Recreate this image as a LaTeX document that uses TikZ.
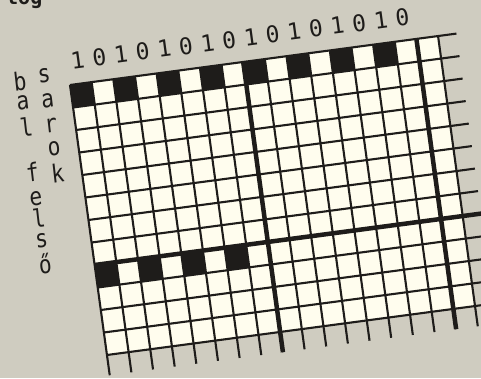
\documentclass[tikz,border=0pt]{standalone}
\usepackage{fontspec}
\usepackage{xcolor}
\usepackage{tikz}
\newfontfamily\typefont{DejaVu Sans Mono}
\definecolor{paper}{RGB}{207,204,192}
\definecolor{cellwhite}{RGB}{255,253,238}
\definecolor{ink}{RGB}{30,28,26}
\tikzset{
  gridline/.style={line width=2.1pt, draw=ink},
  thickline/.style={line width=4.5pt, draw=ink},
  bitlabel/.style={font=\typefont\fontsize{23}{23}\selectfont, text=ink, inner sep=0pt,
    text height=0.7em, text depth=0pt, rotate=7.7},
  sideletter/.style={font=\typefont\fontsize{25}{25}\selectfont, text=ink, inner sep=0pt,
    text height=0.55em, text depth=0pt, xscale=0.85, rotate=7.7},
}

\begin{document}
\begin{tikzpicture}[x=1pt,y=1pt]
  \useasboundingbox (0,0) rectangle (481,378);
  \fill[paper] (0,0) rectangle (481,378);
  % cut-off caption at the top
  \node[font=\typefont\bfseries\fontsize{20}{20}\selectfont, text=ink, anchor=base west, inner sep=0pt] (caption) at (6,373) {log};
  % the rotated chart
  \begin{scope}[shift={(70,293)}, x={(21.65pt,2.88pt)}, y={(3.08pt,-22.5pt)}]
    \fill[cellwhite] (0,0) -- (17,0) -- (17,12) -- (0,12) -- cycle;
    \foreach \c in {0,2,...,14}
      \fill[ink] (\c,0) -- ++(1,0) -- ++(0,1) -- ++(-1,0) -- cycle;
    \foreach \c in {0,2,4,6}
      \fill[ink] (\c,8) -- ++(1,0) -- ++(0,1) -- ++(-1,0) -- cycle;
    \foreach \r in {0,...,12}
      \draw[gridline] (0,\r) -- (17.85,\r);
    \foreach \c in {0,...,17}
      \draw[gridline] (\c,0) -- (\c,12.9);
    \draw[thickline] (0,8) -- (17.85,8);
    \draw[thickline] (8,0) -- (8,12.9);
    \draw[thickline] (16,0) -- (16,12.9);
    % bits over the columns
    \foreach \b [count=\c from 0] in {1,0,1,0,1,0,1,0,1,0,1,0,1,0,1,0}
      \node[bitlabel] (bit\c) at (\c+0.5,-0.82) {\b};
    % side text
    \foreach \t/\v [count=\k] in {b/-0.18,a/0.67,l/1.9,f/3.89,e/4.94,l/5.94,s/6.81,ő/7.96}
      \node[sideletter] (felso\k) at (-2.25,\v) {\t};
    \foreach \t/\v [count=\k] in {s/-0.38,a/0.74,r/1.85,o/2.86,k/4.09}
      \node[sideletter] (sarok\k) at (-1.12,\v) {\t};
  \end{scope}
\end{tikzpicture}
\end{document}
